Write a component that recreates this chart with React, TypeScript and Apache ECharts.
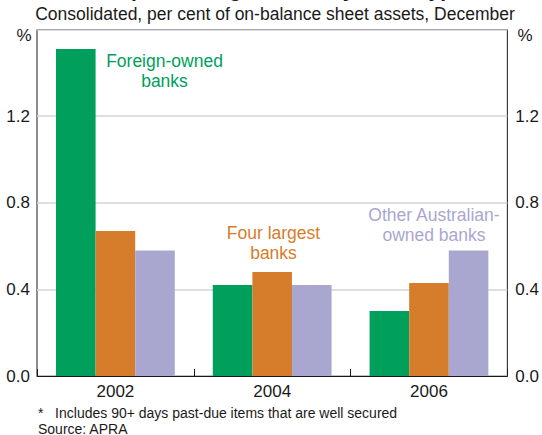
import React, { useEffect, useRef } from "react";
import * as echarts from "echarts";

const categories = ["2002", "2004", "2006"];
const foreignOwned = [1.51, 0.42, 0.3];
const fourLargest = [0.67, 0.48, 0.43];
const otherAustralian = [0.58, 0.42, 0.58];
const yTicks = { min: 0, max: 1.6, interval: 0.4 };

const FONT = "'Liberation Sans', Arial, sans-serif";
const GREEN = "#00A05C";
const ORANGE = "#D67D2B";
const PURPLE = "#A9A7D0";

export default function App() {
  const ref = useRef<HTMLDivElement>(null);
  useEffect(() => {
    if (!ref.current) return;
    const chart = echarts.init(ref.current, undefined, { renderer: "svg" });
    const yAxisBase = {
      type: "value" as const,
      min: yTicks.min,
      max: yTicks.max,
      interval: yTicks.interval,
      axisLine: { show: false },
      axisTick: { show: false },
      axisLabel: {
        color: "#1a1a1a",
        fontFamily: FONT,
        fontSize: 17,
        showMaxLabel: false,
        formatter: (v: number) => (v >= yTicks.max ? "" : v.toFixed(1)),
      },
    };
    chart.setOption({
      animation: false,
      backgroundColor: "#ffffff",
      textStyle: { fontFamily: FONT },
      grid: {
        left: 37,
        right: 30,
        top: 29.5,
        bottom: 59,
        show: true,
        borderColor: "#1a1a1a",
        borderWidth: 1,
        backgroundColor: "transparent",
      },
      xAxis: {
        type: "category",
        data: categories,
        axisLine: { show: true, lineStyle: { color: "#1a1a1a" } },
        axisTick: { show: true, inside: true, length: 7, lineStyle: { color: "#1a1a1a" } },
        axisLabel: { color: "#1a1a1a", fontFamily: FONT, fontSize: 17, margin: 7 },
      },
      yAxis: [
        {
          ...yAxisBase,
          position: "left",
          axisLabel: { ...yAxisBase.axisLabel, margin: 7 },
          splitLine: { show: true, lineStyle: { color: "#D2D4D8", width: 1.5 } },
        },
        {
          ...yAxisBase,
          position: "right",
          axisLabel: { ...yAxisBase.axisLabel, margin: 8 },
          splitLine: { show: false },
        },
      ],
      series: [
        {
          name: "Foreign-owned banks",
          type: "bar",
          data: foreignOwned,
          itemStyle: { color: GREEN },
          barWidth: 39.6,
          barGap: "0%",
        },
        {
          name: "Four largest banks",
          type: "bar",
          data: fourLargest,
          itemStyle: { color: ORANGE },
          barWidth: 39.6,
          barGap: "0%",
        },
        {
          name: "Other Australian-owned banks",
          type: "bar",
          data: otherAustralian,
          itemStyle: { color: PURPLE },
          barWidth: 39.6,
          barGap: "0%",
        },
      ],
      graphic: [
        {
          type: "text",
          x: 274,
          y: 0,
          style: {
            text: "Non-performing Assets* by Bank Type",
            fontFamily: FONT,
            fontSize: 21,
            fontWeight: "bold",
            fill: "#1a1a1a",
            align: "center",
            verticalAlign: "bottom",
          },
        },
        {
          type: "text",
          x: 275,
          y: 14,
          style: {
            text: "Consolidated, per cent of on-balance sheet assets, December",
            fontFamily: FONT,
            fontSize: 17.5,
            fill: "#1a1a1a",
            align: "center",
            verticalAlign: "middle",
          },
        },
        {
          type: "text",
          x: 24,
          y: 35,
          style: { text: "%", fontFamily: FONT, fontSize: 17, fill: "#1a1a1a", align: "center", verticalAlign: "middle" },
        },
        {
          type: "text",
          x: 525,
          y: 35,
          style: { text: "%", fontFamily: FONT, fontSize: 17, fill: "#1a1a1a", align: "center", verticalAlign: "middle" },
        },
        {
          type: "text",
          x: 164.5,
          y: 71,
          style: {
            text: "Foreign-owned\nbanks",
            fontFamily: FONT,
            fontSize: 17.5,
            lineHeight: 20,
            fill: GREEN,
            align: "center",
            verticalAlign: "middle",
          },
        },
        {
          type: "text",
          x: 273.5,
          y: 243,
          style: {
            text: "Four largest\nbanks",
            fontFamily: FONT,
            fontSize: 17.5,
            lineHeight: 20,
            fill: ORANGE,
            align: "center",
            verticalAlign: "middle",
          },
        },
        {
          type: "text",
          x: 434,
          y: 225,
          style: {
            text: "Other Australian-\nowned banks",
            fontFamily: FONT,
            fontSize: 17.5,
            lineHeight: 20,
            fill: PURPLE,
            align: "center",
            verticalAlign: "middle",
          },
        },
        {
          type: "text",
          x: 38,
          y: 413,
          style: {
            text: "*   Includes 90+ days past-due items that are well secured",
            fontFamily: FONT,
            fontSize: 14,
            fill: "#1a1a1a",
            align: "left",
            verticalAlign: "middle",
          },
        },
        {
          type: "text",
          x: 38,
          y: 428.5,
          style: {
            text: "Source: APRA",
            fontFamily: FONT,
            fontSize: 14,
            fill: "#1a1a1a",
            align: "left",
            verticalAlign: "middle",
          },
        },
      ],
    });
    return () => chart.dispose();
  }, []);
  return (
    <div
      ref={ref}
      style={{ position: "fixed", left: 0, top: 0, width: 542, height: 435 }}
    />
  );
}
